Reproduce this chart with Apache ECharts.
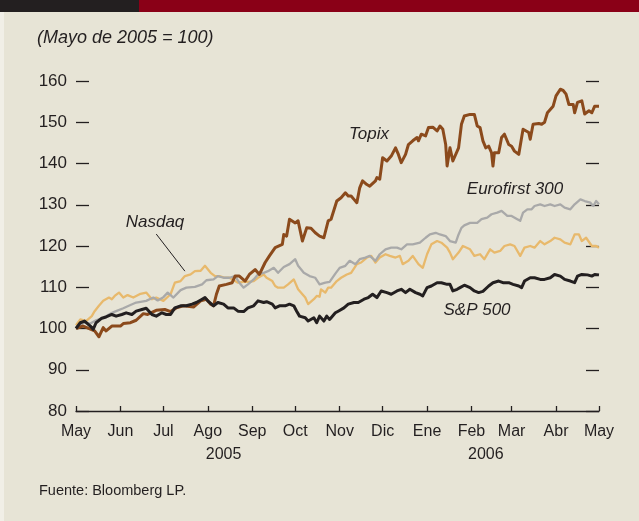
<!DOCTYPE html>
<html>
<head>
<meta charset="utf-8">
<script src="https://cdn.jsdelivr.net/npm/echarts@6/dist/echarts.min.js"></script>
<style>
  html, body { margin: 0; padding: 0; background: #e7e4d6; }
  #chart { width: 639px; height: 521px; }
</style>
</head>
<body>
<div id="chart"></div>
<script>
// Daily category axis: 1 May 2005 .. 1 May 2006
const startYear = 2005, startMonth = 4, dayCount = 366;
const monthLabels = ['May', 'Jun', 'Jul', 'Ago', 'Sep', 'Oct', 'Nov', 'Dic', 'Ene', 'Feb', 'Mar', 'Abr', 'May'];
const yearLabels = { 103: '2005', 286: '2006' };
const yMin = 80, yMax = 160, yStep = 10;

// [day since 1 May 2005, index value]
const topix = [
  [0, 100], [5, 100.6], [13, 99.4], [16, 98], [19, 100.2], [21, 99.4], [25, 100.6], [31, 100.6],
  [33, 101.2], [38, 101.4], [42, 102], [47, 103.6], [50, 103.4], [56, 104.4], [62, 104.6], [66, 104.1],
  [70, 105], [75, 105.5], [82, 105.2], [87, 106.7], [91, 107.1], [94, 105.9], [96, 105.5], [98, 108.3],
  [100, 110.3], [105, 110.7], [109, 111.1], [111, 112.7], [114, 112.7], [118, 111.5], [121, 113.1],
  [125, 114.3], [128, 113.1], [132, 116], [135, 117.6], [139, 119.6], [144, 120.4], [145, 122.8],
  [147, 122.4], [149, 126.5], [153, 125.6], [155, 126.1], [158, 121.2], [161, 124.4], [164, 124.3],
  [167, 123.2], [170, 122.4], [173, 122], [176, 126.1], [178, 126.5], [182, 130.9], [185, 131.7],
  [188, 132.9], [190, 132.1], [192, 132.1], [194, 131.3], [196, 130.5], [198, 134.1], [200, 135.8],
  [203, 134.9], [205, 134.5], [209, 135.8], [210, 136.6], [212, 136.2], [214, 141.4], [217, 140.6],
  [220, 141.8], [223, 143.8], [225, 142.2], [227, 140.2], [230, 142.2], [232, 144.6], [235, 145.5],
  [238, 146.3], [239, 145.5], [241, 147.1], [244, 146.7], [246, 148.7], [247, 149.1], [249, 148.8],
  [252, 147.9], [254, 149.1], [256, 148.3], [258, 144.6], [259, 139.4], [261, 143.8], [263, 140.6],
  [267, 143.8], [269, 149.5], [271, 151.5], [275, 151.9], [278, 151.9], [280, 149.1], [282, 148.7],
  [284, 145.5], [286, 143.8], [288, 144.2], [290, 142.6], [291, 139.4], [292, 142.6], [295, 142.6],
  [297, 146.3], [299, 147.1], [302, 144.6], [304, 144.2], [306, 143], [309, 142.2], [311, 146.3],
  [312, 148.3], [316, 147.5], [317, 145.9], [319, 149.5], [323, 149.7], [325, 149.5], [327, 150],
  [329, 152.3], [331, 153.1], [333, 153.9], [335, 156.4], [338, 158], [340, 157.7], [342, 156.8],
  [344, 154.3], [347, 154.3], [348, 152.3], [350, 154.8], [353, 155.2], [355, 152], [358, 152.8],
  [360, 152.3], [362, 153.9], [365, 153.9]
];

const eurofirst = [
  [0, 100], [5, 101.4], [10, 101.2], [14, 102], [19, 102.6], [24, 103.6], [28, 104.2], [33, 104.9],
  [38, 105.7], [42, 106.3], [49, 106.7], [54, 107.5], [57, 106.8], [61, 107.6], [64, 108.7], [68, 107.5],
  [73, 109.3], [77, 109.9], [83, 110.1], [88, 110.7], [91, 111.7], [96, 111.9], [99, 112.7], [103, 112.3],
  [107, 112.3], [111, 112.7], [114, 111.1], [117, 109.9], [120, 110.7], [124, 111.9], [127, 113.1],
  [131, 113.5], [134, 113.9], [138, 114.7], [141, 113.5], [145, 114.9], [149, 115.6], [153, 116.8],
  [155, 115.2], [159, 113.5], [163, 112.7], [167, 112.3], [170, 110.7], [174, 111.1], [177, 111.3],
  [181, 113.3], [184, 114.7], [188, 115.2], [191, 116.4], [195, 115.6], [198, 116.8], [202, 117.2],
  [205, 117.6], [209, 116.4], [212, 118], [216, 119.2], [220, 119.6], [224, 119.6], [227, 119.2],
  [231, 120.4], [235, 120.4], [240, 120.8], [244, 122], [247, 122.8], [251, 123.2], [254, 122.8],
  [258, 122.4], [261, 121.2], [265, 120.8], [267, 122.8], [269, 124.4], [271, 125], [275, 125.6],
  [280, 125.6], [283, 126.5], [287, 126.9], [290, 127.7], [294, 128.1], [297, 128.5], [301, 127.3],
  [304, 127.3], [308, 126.5], [310, 126.1], [312, 128.1], [315, 128.9], [318, 128.9], [320, 129.7],
  [324, 130.1], [327, 129.7], [331, 130.1], [334, 129.7], [338, 130.1], [341, 129.3], [345, 128.9],
  [348, 130.1], [352, 131.3], [355, 130.9], [359, 130.5], [361, 129.7], [363, 130.9], [365, 130.1]
];

const nasdaq = [
  [0, 100.8], [3, 102.2], [7, 101.8], [11, 103], [13, 104.2], [16, 105.5], [19, 106.7], [23, 107.5],
  [25, 107.1], [27, 107.9], [30, 108.7], [33, 107.5], [36, 108.1], [40, 107.5], [45, 108.4], [49, 108.7],
  [53, 107.1], [56, 107.5], [61, 106.7], [66, 108.3], [69, 111.1], [73, 111.5], [76, 112.7], [80, 113.1],
  [83, 113.9], [87, 114], [90, 115.2], [94, 113.5], [97, 112.7], [100, 112.7], [104, 112.3], [107, 112.3],
  [111, 111.5], [113, 111.1], [117, 111.3], [120, 111.3], [124, 111.5], [127, 112.3], [131, 113.1],
  [133, 112.3], [137, 111.5], [139, 110.3], [141, 109.9], [145, 109.9], [148, 110.7], [152, 111.9],
  [155, 109.5], [158, 108.3], [160, 107.5], [162, 105.9], [166, 107.1], [168, 107.9], [170, 107.7],
  [171, 109.5], [174, 108.7], [176, 109.9], [178, 109.9], [182, 111.5], [185, 112.3], [189, 113.1],
  [192, 113.5], [196, 115.6], [199, 116], [203, 117.2], [206, 117.6], [209, 116], [212, 117.2],
  [216, 118], [219, 117.6], [223, 117.2], [226, 117.6], [228, 115.6], [232, 116.4], [235, 117.6],
  [239, 115.6], [242, 114.7], [245, 118], [248, 120.4], [252, 121.2], [255, 120.8], [259, 119.6],
  [261, 118.4], [263, 116.8], [267, 118.4], [270, 120], [275, 119.2], [278, 117.6], [282, 118],
  [285, 116.8], [289, 119.2], [292, 118.4], [296, 118.8], [299, 120], [303, 120.4], [306, 120],
  [310, 117.6], [313, 119.6], [317, 120], [320, 119.6], [324, 121.2], [327, 120.4], [331, 121.2],
  [334, 122], [338, 121.6], [341, 120.8], [345, 120.4], [348, 122.8], [351, 122.8], [353, 121.2],
  [356, 122], [360, 120], [363, 120], [365, 119.6]
];

const sp500 = [
  [0, 100], [3, 101.4], [6, 101.8], [10, 100.6], [12, 99.8], [14, 101.4], [18, 102.5], [21, 102.8],
  [25, 103.4], [28, 103], [32, 103.4], [35, 103.8], [39, 103.4], [42, 104.2], [46, 104.6], [49, 104.9],
  [53, 103.4], [56, 103], [60, 103.8], [63, 103.4], [66, 103.4], [69, 105], [73, 105.5], [77, 105.5],
  [81, 105.9], [84, 106.3], [88, 107.1], [90, 107.5], [92, 106.7], [96, 105.5], [99, 106.3], [103, 105.9],
  [106, 105], [110, 105], [113, 104.2], [117, 104.1], [120, 105], [124, 105.5], [127, 106.7], [131, 106.3],
  [133, 106.5], [137, 105.9], [139, 105], [142, 105.5], [146, 105.5], [149, 105.9], [152, 105.5],
  [154, 104.2], [156, 103], [160, 102.6], [162, 101.8], [166, 102.6], [168, 101.4], [170, 103],
  [173, 101.8], [175, 103], [177, 102.2], [181, 103.8], [183, 104.2], [187, 105], [190, 105.9],
  [194, 106.3], [197, 106.3], [201, 107.1], [204, 107.5], [207, 108.3], [210, 107.5], [213, 109.1],
  [217, 108.7], [220, 108.3], [224, 109.1], [227, 109.5], [230, 108.7], [233, 109.5], [237, 108.7],
  [240, 108.3], [242, 107.9], [245, 109.9], [248, 110.3], [252, 111.1], [255, 111.1], [259, 110.7],
  [261, 110.7], [263, 109.1], [266, 109.5], [268, 109.9], [271, 110.5], [275, 109.9], [278, 109.1],
  [281, 108.7], [284, 109], [288, 110.3], [291, 111.1], [295, 111.5], [298, 111.1], [302, 111.1],
  [305, 110.7], [309, 110.3], [311, 109.9], [313, 111.5], [317, 112.3], [320, 112.3], [324, 111.9],
  [327, 111.9], [331, 112.3], [334, 113.1], [338, 112.7], [341, 111.9], [345, 111.5], [348, 111.1],
  [350, 112.7], [353, 113.1], [357, 113], [360, 112.7], [362, 113.1], [365, 113]
];

// leader from the Nasdaq label to its line: [day, value]
const nasdaqLeader = [[56, 122.9], [76, 113.9]];

const ink = '#231f20';
const font = '"Liberation Sans", Arial, sans-serif';

// build the daily categories
const categories = [];
for (let i = 0; i < dayCount; i++) {
  const d = new Date(Date.UTC(startYear, startMonth, 1 + i));
  categories.push(d.toISOString().slice(0, 10));
}
const isMonthStart = (i) => categories[i].endsWith('-01');
const monthName = (cat) => {
  const y = +cat.slice(0, 4), m = +cat.slice(5, 7) - 1;
  return monthLabels[(y - startYear) * 12 + m - startMonth];
};

const chart = echarts.init(document.getElementById('chart'));

const lineSeries = (name, data, color, width, z) => ({
  name,
  type: 'line',
  data,
  symbol: 'none',
  z,
  lineStyle: { color, width, join: 'round' },
  emphasis: { disabled: true },
  animation: false
});

const option = {
  backgroundColor: '#e7e4d6',
  animation: false,
  grid: { left: 76, right: 40, top: 81, bottom: 110 },
  xAxis: [
    {
      type: 'category',
      data: categories,
      boundaryGap: false,
      axisLine: { lineStyle: { color: ink, width: 1.3 } },
      axisTick: {
        inside: true,
        length: 5,
        interval: (i) => isMonthStart(i),
        lineStyle: { color: ink, width: 1.3 }
      },
      axisLabel: {
        interval: (i) => isMonthStart(i),
        formatter: (v) => monthName(v),
        color: ink,
        fontFamily: font,
        fontSize: 16,
        margin: 13
      },
      splitLine: { show: false }
    },
    {
      type: 'category',
      data: categories,
      boundaryGap: false,
      position: 'bottom',
      axisLine: { show: false },
      axisTick: { show: false },
      axisLabel: {
        interval: (i) => yearLabels[i] !== undefined,
        formatter: (v, i) => yearLabels[i] || '',
        color: ink,
        fontFamily: font,
        fontSize: 16,
        margin: 36
      },
      splitLine: { show: false }
    }
  ],
  yAxis: [
    {
      type: 'value',
      min: yMin,
      max: yMax,
      interval: yStep,
      axisLine: { show: false },
      axisTick: { show: true, inside: true, length: 13, lineStyle: { color: ink, width: 1.3 } },
      axisLabel: { color: ink, fontFamily: font, fontSize: 17, margin: 9 },
      splitLine: { show: false }
    },
    {
      type: 'value',
      position: 'right',
      min: yMin,
      max: yMax,
      interval: yStep,
      axisLine: { show: false },
      axisTick: { show: true, inside: true, length: 13, lineStyle: { color: ink, width: 1.3 } },
      axisLabel: { show: false },
      splitLine: { show: false }
    }
  ],
  series: [
    Object.assign(lineSeries('Nasdaq', nasdaq, '#e8b96c', 2.3, 2), {
      markLine: {
        silent: true,
        symbol: 'none',
        label: { show: false },
        lineStyle: { color: ink, width: 1, type: 'solid' },
        data: [[{ coord: nasdaqLeader[0] }, { coord: nasdaqLeader[1] }]]
      }
    }),
    lineSeries('Eurofirst 300', eurofirst, '#a9a9a9', 2.3, 3),
    lineSeries('Topix', topix, '#8b4a1c', 3, 4),
    lineSeries('S&P 500', sp500, ink, 3, 5)
  ],
  graphic: [
    { type: 'rect', left: 0, top: 0, shape: { width: 139, height: 12 }, style: { fill: '#231f20' } },
    { type: 'rect', left: 139, top: 0, shape: { width: 500, height: 12 }, style: { fill: '#8a0017' } },
    { type: 'rect', left: 0, top: 12, shape: { width: 4, height: 509 }, style: { fill: '#f1efe7' } },
    {
      type: 'text', left: 37, top: 29,
      style: { text: '(Mayo de 2005 = 100)', fill: ink, font: 'italic 18px ' + font }
    },
    {
      type: 'text', left: 39, top: 483,
      style: { text: 'Fuente: Bloomberg LP.', fill: ink, font: '14.5px ' + font }
    },
    {
      type: 'text', x: 369, y: 134,
      style: { text: 'Topix', fill: ink, font: 'italic 17px ' + font, align: 'center', verticalAlign: 'middle' }
    },
    {
      type: 'text', x: 515, y: 189,
      style: { text: 'Eurofirst 300', fill: ink, font: 'italic 17px ' + font, align: 'center', verticalAlign: 'middle' }
    },
    {
      type: 'text', x: 477, y: 310,
      style: { text: 'S&P 500', fill: ink, font: 'italic 17px ' + font, align: 'center', verticalAlign: 'middle' }
    },
    {
      type: 'text', x: 155, y: 222,
      style: { text: 'Nasdaq', fill: ink, font: 'italic 17px ' + font, align: 'center', verticalAlign: 'middle' }
    }
  ]
};

chart.setOption(option);
</script>
</body>
</html>
